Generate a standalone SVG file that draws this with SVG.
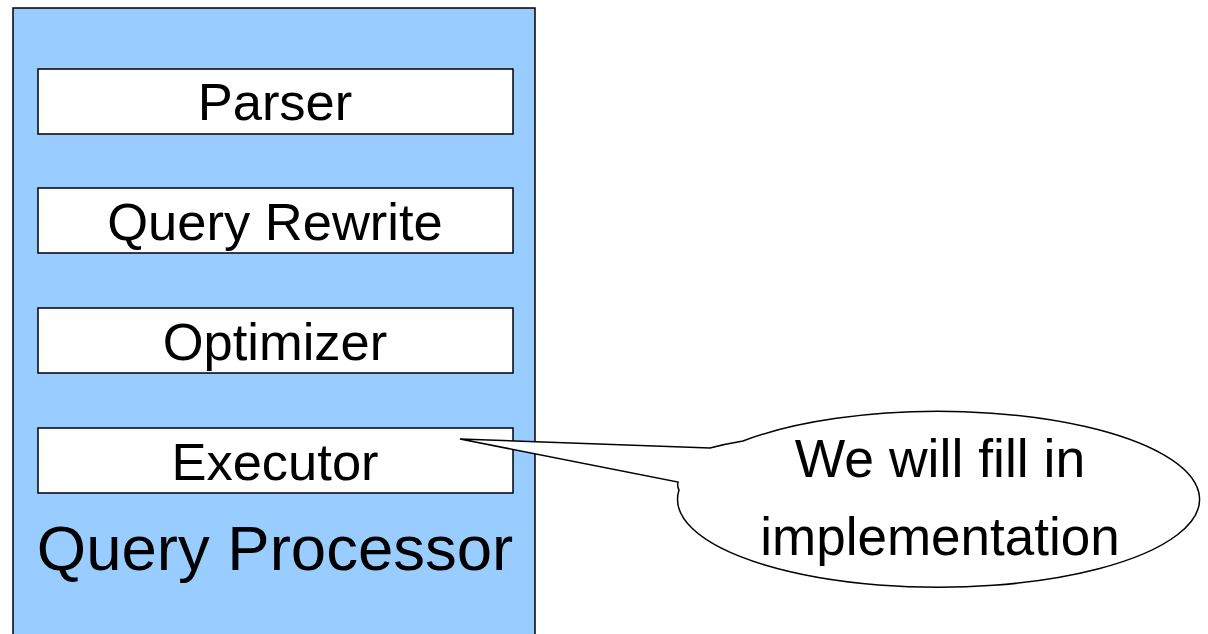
<svg xmlns="http://www.w3.org/2000/svg" width="1208" height="634" viewBox="0 0 1208 634">
<style>
text{font-family:"Liberation Sans",Arial,sans-serif;fill:#000;text-anchor:middle}
.box{fill:#fff;stroke:#000;stroke-width:1.5}
.lbl{font-size:52.5px}
</style>
<rect width="1208" height="634" fill="#fff"/>
<g id="query-processor">
<rect x="13" y="8" width="522" height="640" fill="#99ccff" stroke="#000" stroke-width="1.5"/>
<text x="275" y="570" font-size="63.5">Query Processor</text>
</g>
<g id="parser"><rect class="box" x="38" y="69" width="475" height="65"/><text class="lbl" x="275" y="120">Parser</text></g>
<g id="query-rewrite"><rect class="box" x="38" y="188" width="475" height="65"/><text class="lbl" x="275" y="240">Query Rewrite</text></g>
<g id="optimizer"><rect class="box" x="38" y="308" width="475" height="65"/><text class="lbl" x="275" y="360">Optimizer</text></g>
<g id="executor"><rect class="box" x="38" y="428" width="475" height="65"/><text class="lbl" x="275" y="480">Executor</text></g>
<g id="connectors">
<path d="M743,441 A261,88 0 1 1 679,490 Q677,486 678,482 L460,439 L710,448 Q725,444 743,441 Z" fill="#fff" stroke="#000" stroke-width="1.5" stroke-linejoin="miter"/>
</g>
<g id="callout">
<text x="940" y="477" font-size="53.5">We will fill in</text>
<text x="940" y="555" font-size="53">implementation</text>
</g>
</svg>
